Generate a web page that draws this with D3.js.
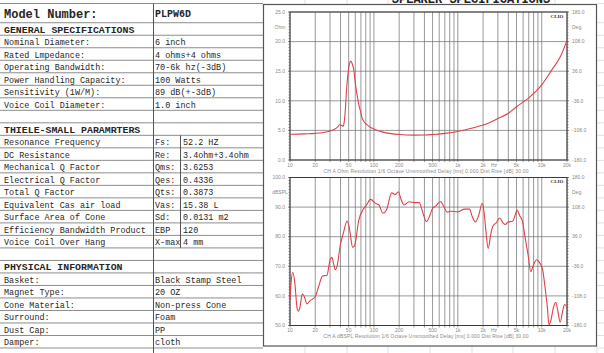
<!DOCTYPE html>
<html lang="en">
<head>
<meta charset="UTF-8">
<title>PLPW6D</title>
<script src="https://cdn.jsdelivr.net/npm/d3@7"></script>
<style>
    body{margin:0;background:#fff;}
    svg{display:block;}
    .cell{font-family:"Liberation Mono","DejaVu Sans Mono",monospace;fill:#262626;}
    .ax{font-family:"Liberation Sans",Arial,sans-serif;fill:#8a8a8a;font-size:5px;}
</style>
</head>
<body>
<svg id="main" width="604" height="353"></svg>
<script>
    // ---- table data ----
    let modelLabel = 'Model Number:';
    let modelValue = 'PLPW6D';
    let generalTitle = 'GENERAL SPECIFICATIONS';
    let generalLabels = ['Nominal Diameter:', 'Rated Lmpedance:', 'Operating Bandwidth:',
        'Power Handling Capacity:', 'Sensitivity (1W/M):', 'Voice Coil Diameter:'];
    let generalValues = ['6 inch', '4 ohms+4 ohms', '70-6k hz(-3dB)', '100 Watts',
        '89 dB(+-3dB)', '1.0 inch'];
    let tsTitle = 'THIELE-SMALL PARAMRTERS';
    let tsLabels = ['Resonance Frequency', 'DC Resistance', 'Mechanical Q Factor',
        'Electrical Q Factor', 'Total Q Factor', 'Equivalent Cas air load',
        'Surface Area of Cone', 'Efficiency Bandwidth Product', 'Voice Coil Over Hang'];
    let tsSymbols = ['Fs:', 'Re:', 'Qms:', 'Qes:', 'Qts:', 'Vas:', 'Sd:', 'EBP', 'X-max'];
    let tsValues = ['52.2 HZ', '3.4ohm+3.4ohm', '3.6253', '0.4336', '0.3873', '15.38 L',
        '0.0131 m2', '120', '4 mm'];
    let physTitle = 'PHYSICAL INFORMATION';
    let physLabels = ['Basket:', 'Magnet Type:', 'Cone Material:', 'Surround:', 'Dust Cap:', 'Damper:'];
    let physValues = ['Black Stamp Steel', '20 OZ', 'Non-press Cone', 'Foam', 'PP', 'cloth'];
    let pageTitle = 'SPEAKER SPECIFICATIONS';

    // ---- chart data ----
    let impFreq = [10, 15, 20, 25, 30, 34, 37, 39, 41, 43, 44, 45.5, 47, 49, 51, 53, 55, 57.6,
        60, 63, 66, 69.3, 72, 76, 80, 84, 90, 100, 125, 160, 200, 300, 400, 500, 700, 1000,
        1500, 2000, 3000, 4000, 5000, 7000, 10000, 13000, 17000, 20000];
    let impOhm = [4.35, 4.42, 4.5, 4.65, 4.9, 5.2, 5.6, 5.95, 5.85, 5.7, 6.2, 8.2, 11.5, 14.5,
        16.2, 16.7, 16.3, 15.2, 13.0, 11.0, 9.4, 8.2, 7.2, 6.5, 6.1, 5.9, 5.55, 5.25, 4.75,
        4.45, 4.3, 4.2, 4.22, 4.3, 4.5, 4.82, 5.4, 5.9, 7.0, 7.9, 9.0, 10.5, 12.7, 15.1, 17.7, 20.2];

    let splFreq = [10, 10.3, 10.8, 11.4, 12.2, 12.6, 13.2, 14.0, 14.8, 15.9, 17.4, 20, 21.9,
        24.4, 27.6, 30.2, 31.6, 33, 34.7, 36.3, 39.8, 43.7, 47.9, 51, 55.8, 59.2, 66, 73.7,
        81.6, 91, 105, 115, 128, 141, 163, 179, 196, 209, 229, 263, 303, 347, 380, 424, 466,
        500, 550, 620, 680, 745, 830, 1000, 1200, 1380, 1480, 1620, 1780, 1950, 2050, 2170,
        2300, 2470, 2620, 2870, 3150, 3450, 3670, 4000, 4500, 5100, 5500, 5900, 6300, 6900,
        7400, 7900, 8700, 9200, 10200, 11000, 11700, 12200, 12900, 13700, 14700, 15600,
        16600, 17700, 18700, 20000];
    let splDb = [58.6, 64.5, 68, 64.5, 55.5, 54.8, 56.5, 60.6, 59.8, 57.3, 58.4, 59.8, 63.1,
        66.7, 67, 72.5, 73, 71, 68.8, 69.9, 77.2, 81.7, 85.3, 82.8, 76.4, 77.2, 85.6, 89,
        90.7, 92.6, 91.2, 90.7, 87.9, 89, 94.8, 94.2, 95.2, 92.9, 90.7, 91.8, 91.5, 91.5,
        88.4, 85.1, 87.3, 89.6, 90.4, 91.9, 90.2, 88.3, 88.6, 88.4, 89.3, 89.3, 86.9, 85,
        87.4, 91.3, 88.6, 81.3, 76, 80.8, 83.6, 84.7, 86.3, 84.7, 84.1, 85, 85.2, 88.9, 86.9,
        85.2, 80.2, 73.6, 68.2, 70.2, 72.2, 71.6, 69.1, 62.4, 55.8, 50.2, 51.9, 55.8, 57.8,
        54.7, 51.1, 54.7, 57.1, 56.3];

    let xTicks = [10, 20, 50, 100, 200, 500, 1000, 2000, 5000, 10000, 20000];
    let xTickLabels = ['10', '20', '50', '100', '200', '500', '1k', '2k', '5k', '10k', '20k'];
    let ohmTicks = [0, 5, 10, 15, 20, 25];
    let splTicks = [50, 60, 70, 80, 90, 100];
    let degLabels = ['-180.0', '-108.0', '-36.0', '36.0', '108.0', '180.0'];
    let impFooter = 'CH A    Ohm    Resolution 1/6 Octave    Unsmoothed    Delay [ms] 0.000    Dist Rise [dB] 30.00';
    let splFooter = 'CH A    dBSPL    Resolution 1/6 Octave    Unsmoothed    Delay [ms] 0.000    Dist Rise [dB] 30.00';

    let svg = d3.select('#main');
    svg.append('rect').attr('width', 604).attr('height', 353).attr('fill', '#fff');

    // faint spreadsheet grid outside the chart box
    let faint = svg.append('g').attr('stroke', '#d9d9d9').attr('stroke-width', 0.8);
    [305, 347, 388, 430, 472, 513, 555].forEach(function (x) {
        faint.append('line').attr('x1', x).attr('x2', x).attr('y1', 0).attr('y2', 4);
        faint.append('line').attr('x1', x).attr('x2', x).attr('y1', 346).attr('y2', 353);
    });
    faint.append('line').attr('x1', 597).attr('x2', 597).attr('y1', 346).attr('y2', 353);

    // ---- table ----
    let pitch = 12.51;
    function rowY(i) { return 41.5 + i * pitch; }
    let tbl = svg.append('g');
    let lineG = tbl.append('g').attr('stroke', '#8c8c8c').attr('stroke-width', 1);
    function hline(y) {
        lineG.append('line').attr('x1', 0).attr('x2', 263).attr('y1', y).attr('y2', y);
        faint.append('line').attr('x1', 597).attr('x2', 604).attr('y1', y).attr('y2', y);
    }
    hline(3.5);
    hline(rowY(-1) - pitch / 2);
    for (let i = -1; i <= 24; i++) hline(rowY(i) + pitch / 2);

    let rows = [];
    rows.push({i: -1, label: generalTitle, head: true});
    generalLabels.forEach(function (d, k) { rows.push({i: k, label: d, value: generalValues[k]}); });
    rows.push({i: 7, label: tsTitle, head: true});
    tsLabels.forEach(function (d, k) { rows.push({i: 8 + k, label: d, sym: tsSymbols[k], value: tsValues[k]}); });
    rows.push({i: 18, label: physTitle, head: true});
    physLabels.forEach(function (d, k) { rows.push({i: 19 + k, label: d, value: physValues[k]}); });

    // monospace text, stretched a little in height like the SimSun original
    function cellText(x, y, str, size, sy, bold) {
        tbl.append('text').attr('class', 'cell')
            .attr('transform', 'translate(' + x + ',' + y + ') scale(1,' + sy + ')')
            .attr('font-size', size).attr('font-weight', bold ? 'bold' : 'normal')
            .text(str);
    }
    cellText(4, 18, modelLabel, 12, 1.12, true);
    cellText(155, 17, modelValue, 10, 1.0, true);
    rows.forEach(function (r) {
        let y = rowY(r.i) + 3.6;
        if (r.head) {
            cellText(4, y, r.label, 9.9, 1.0, true);
            return;
        }
        cellText(4, y, r.label, 8.45, 1.15, false);
        if (r.sym !== undefined) {
            cellText(155, y, r.sym, 8.45, 1.15, false);
            cellText(183, y, r.value, 8.45, 1.15, false);
        } else {
            cellText(155, y, r.value, 8.5, 1.15, false);
        }
    });
    // column dividers
    tbl.append('line').attr('x1', 153.5).attr('x2', 153.5).attr('y1', 3.5).attr('y2', 353)
        .attr('stroke', '#555').attr('stroke-width', 1);
    tbl.append('line').attr('x1', 180.5).attr('x2', 180.5)
        .attr('y1', rowY(8) - pitch / 2).attr('y2', rowY(16) + pitch / 2)
        .attr('stroke', '#555').attr('stroke-width', 1);

    // ---- page title (cut at top, as in the original sheet) ----
    svg.append('text').attr('x', 471).attr('y', 3.2).attr('text-anchor', 'middle')
        .attr('font-family', '"Liberation Mono",monospace').attr('font-weight', 'bold')
        .attr('font-size', 12).attr('fill', '#222')
        .text(pageTitle);

    // ---- chart box ----
    svg.append('rect').attr('x', 263.5).attr('y', 4.5).attr('width', 333).attr('height', 341.5)
        .attr('fill', '#fff').attr('stroke', '#555').attr('stroke-width', 1.2);

    let xScale = d3.scaleLog().domain([10, 20000]).range([290, 567]);
    let gridFreqs = [];
    [10, 100, 1000].forEach(function (dec) {
        for (let k = 1; k <= 9; k++) gridFreqs.push(dec * k);
    });
    gridFreqs.push(10000, 20000);

    function drawChart(cfg) {
        let g = svg.append('g');
        let y = cfg.y;
        let top = y.range()[1], bot = y.range()[0];
        let gridG = g.append('g').attr('stroke', '#6d6d6d').attr('stroke-width', 0.7);
        gridFreqs.forEach(function (f) {
            gridG.append('line').attr('x1', xScale(f)).attr('x2', xScale(f))
                .attr('y1', top).attr('y2', bot + 2);
        });
        cfg.ticks.forEach(function (t) {
            gridG.append('line').attr('x1', 288).attr('x2', 569)
                .attr('y1', y(t)).attr('y2', y(t));
        });
        // minor ticks on left / right axes
        let step = (cfg.ticks[1] - cfg.ticks[0]) / 10;
        let minor = d3.range(cfg.ticks[0], cfg.ticks[cfg.ticks.length - 1] + step / 2, step);
        minor.forEach(function (m) {
            gridG.append('line').attr('x1', 288.5).attr('x2', 290).attr('y1', y(m)).attr('y2', y(m));
            gridG.append('line').attr('x1', 567).attr('x2', 568.5).attr('y1', y(m)).attr('y2', y(m));
        });
        g.append('rect').attr('x', 290).attr('y', top).attr('width', 277).attr('height', bot - top)
            .attr('fill', 'none').attr('stroke', '#3a3a3a').attr('stroke-width', 1);

        // axis labels
        cfg.ticks.forEach(function (t, k) {
            g.append('text').attr('class', 'ax').attr('x', 285).attr('y', y(t)).attr('dy', '0.35em')
                .attr('text-anchor', 'end').text(d3.format('.1f')(t));
            g.append('text').attr('class', 'ax').attr('x', 572).attr('y', y(t)).attr('dy', '0.35em')
                .text(degLabels[k]);
        });
        let unitY = (y(cfg.ticks[cfg.ticks.length - 1]) + y(cfg.ticks[cfg.ticks.length - 2])) / 2;
        g.append('text').attr('class', 'ax').attr('x', 280).attr('y', unitY).attr('dy', '0.35em')
            .attr('text-anchor', 'middle').text(cfg.unit);
        g.append('text').attr('class', 'ax').attr('x', 572).attr('y', unitY).attr('dy', '0.35em')
            .text('Deg.');
        xTicks.forEach(function (f, k) {
            g.append('text').attr('class', 'ax').attr('x', xScale(f)).attr('y', bot + 6.5)
                .attr('text-anchor', 'middle').text(xTickLabels[k]);
        });
        g.append('text').attr('class', 'ax').attr('x', 494).attr('y', bot + 6.5)
            .attr('text-anchor', 'middle').text('Hz');
        g.append('text').attr('class', 'ax').attr('x', 426).attr('y', bot + 12.5)
            .attr('text-anchor', 'middle').attr('textLength', 205).text(cfg.footer);

        // CLIO badge
        g.append('rect').attr('x', 549).attr('y', top + 1.5).attr('width', 16).attr('height', 5)
            .attr('fill', '#fff');
        g.append('text').attr('x', 557).attr('y', top + 5.6).attr('text-anchor', 'middle')
            .attr('font-family', '"Liberation Serif",serif').attr('font-weight', 'bold')
            .attr('font-size', 5).attr('fill', '#333').text('CLIO');

        // curve
        let line = d3.line()
            .x(function (d) { return xScale(d[0]); })
            .y(function (d) { return y(d[1]); })
            .curve(d3.curveMonotoneX);
        let pts = cfg.freq.map(function (f, k) { return [f, cfg.vals[k]]; });
        g.append('path').datum(pts).attr('d', line).attr('fill', 'none')
            .attr('stroke', '#e0404a').attr('stroke-width', 1.1);
    }

    drawChart({
        y: d3.scaleLinear().domain([0, 25]).range([160, 12]),
        ticks: ohmTicks, unit: 'Ohm', footer: impFooter,
        freq: impFreq, vals: impOhm
    });
    drawChart({
        y: d3.scaleLinear().domain([50, 100]).range([325.5, 177.5]),
        ticks: splTicks, unit: 'dBSPL', footer: splFooter,
        freq: splFreq, vals: splDb
    });
</script>
</body>
</html>
